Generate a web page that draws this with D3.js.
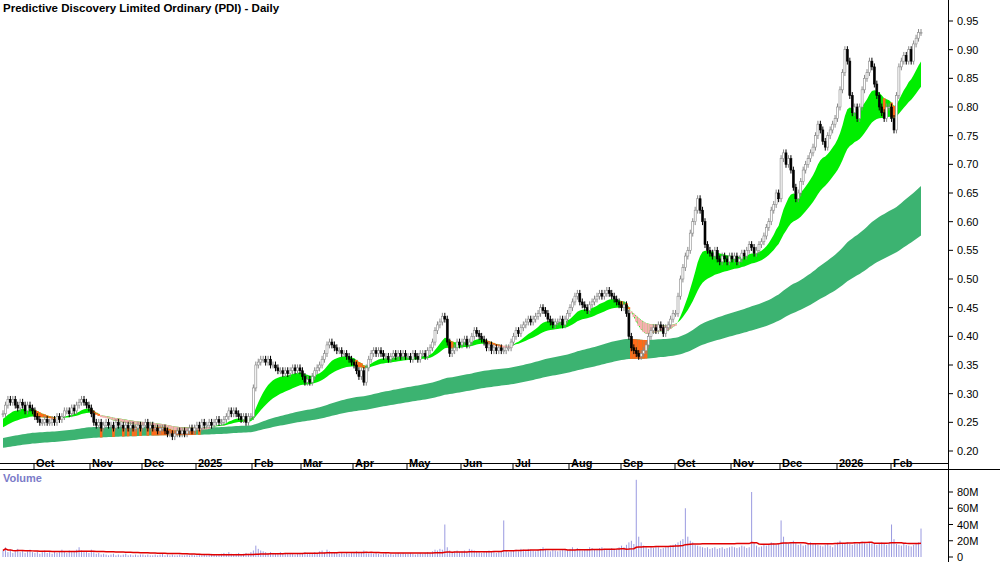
<!DOCTYPE html>
<html><head><meta charset="utf-8">
<script src="https://cdn.jsdelivr.net/npm/d3@7"></script>
<style>body{margin:0;background:#fff}svg{font-family:"Liberation Sans",Arial,sans-serif}</style>
</head><body><svg id="c" width="1000" height="562"></svg>
<script>
const title = "Predictive Discovery Limited Ordinary (PDI) - Daily";
const startDate = "2024-09-12";
const closes = [
0.265,0.28,0.29,0.285,0.29,0.28,0.275,0.285,0.28,0.27,0.28,0.275,0.27,
0.26,0.255,0.25,0.25,0.255,0.25,0.25,0.255,0.25,0.26,0.255,0.26,0.27,0.27,0.265,0.275,0.27,0.28,0.285,0.29,0.285,0.28,0.275,
0.265,0.25,0.245,0.25,0.24,0.245,0.25,0.245,0.245,0.24,0.25,0.245,0.245,0.24,0.245,0.24,0.245,0.24,0.24,0.245,0.24,
0.245,0.25,0.24,0.245,0.24,0.24,0.235,0.24,0.24,0.235,0.23,0.23,0.225,0.23,0.235,0.23,0.235,0.23,0.235,0.24,0.235,0.24,
0.245,0.24,0.25,0.245,0.245,0.25,0.245,0.25,0.255,0.25,0.25,0.255,0.26,0.27,0.265,0.27,0.265,0.26,0.255,0.26,0.25,0.26,0.26,
0.31,0.35,0.355,0.36,0.36,0.355,0.36,0.35,0.35,0.345,0.34,0.34,0.335,0.34,0.335,0.34,0.345,0.34,0.345,0.34,
0.33,0.32,0.325,0.32,0.33,0.34,0.345,0.35,0.36,0.37,0.385,0.39,0.385,0.38,0.375,0.375,0.37,0.37,0.365,0.36,0.355,
0.35,0.34,0.33,0.34,0.32,0.345,0.36,0.37,0.375,0.37,0.375,0.37,0.365,0.365,0.36,0.365,0.37,0.365,0.37,0.365,0.37,0.365,
0.365,0.36,0.37,0.365,0.36,0.37,0.37,0.365,0.375,0.38,0.39,0.41,0.42,0.425,0.435,0.43,0.39,0.37,0.375,0.38,0.39,0.385,
0.39,0.395,0.385,0.39,0.40,0.41,0.405,0.40,0.395,0.39,0.38,0.385,0.375,0.38,0.375,0.38,0.375,0.375,0.38,0.38,0.39,
0.40,0.41,0.405,0.415,0.42,0.425,0.43,0.425,0.43,0.435,0.44,0.45,0.445,0.44,0.43,0.425,0.42,0.425,0.425,0.43,0.42,0.43,0.44,
0.45,0.46,0.47,0.475,0.46,0.455,0.45,0.445,0.455,0.46,0.465,0.47,0.475,0.47,0.475,0.48,0.475,0.47,0.465,0.46,0.455,
0.45,0.455,0.44,0.40,0.38,0.375,0.37,0.365,0.37,0.375,0.385,0.40,0.41,0.415,0.41,0.42,0.415,0.405,0.415,0.42,0.43,0.44,
0.44,0.47,0.50,0.52,0.54,0.55,0.58,0.60,0.62,0.64,0.62,0.60,0.56,0.55,0.545,0.54,0.55,0.535,0.53,0.54,0.535,0.53,0.54,
0.535,0.54,0.53,0.535,0.545,0.54,0.55,0.56,0.555,0.545,0.55,0.56,0.565,0.575,0.59,0.60,0.62,0.63,0.65,0.64,
0.71,0.72,0.70,0.71,0.69,0.66,0.64,0.65,0.67,0.69,0.70,0.71,0.72,0.73,0.75,0.77,0.76,0.74,0.73,0.75,0.76,0.77,
0.78,0.80,0.83,0.86,0.90,0.88,0.82,0.79,0.80,0.78,0.80,0.83,0.85,0.86,0.88,0.87,0.84,0.82,0.80,0.79,0.78,0.80,
0.80,0.78,0.76,0.82,0.87,0.88,0.89,0.88,0.90,0.88,0.91,0.92,0.93,0.93];
const volumesM = [
8,12,6,9,5,7,10,6,8,5,7,9,6,
5,7,4,6,8,5,6,4,7,5,6,9,7,5,8,6,7,9,12,8,6,7,5,
9,6,4,5,3,4,3,2,3,4,2,3,2,3,4,2,3,2,3,2,3,
3,2,3,2,2,3,2,3,4,2,3,2,3,2,2,3,2,2,3,2,3,2,
2,3,2,3,2,3,4,3,2,3,4,5,4,6,4,3,4,5,3,4,5,4,6,
8,14,10,8,7,6,5,6,5,4,5,6,4,5,4,5,4,3,4,5,
5,6,4,5,4,6,5,7,8,6,9,7,5,6,5,4,5,4,5,4,5,
6,7,5,6,8,5,4,5,4,5,4,3,4,5,3,4,3,4,5,4,5,4,
4,5,4,3,4,5,4,5,6,5,7,9,8,10,9,40,12,8,6,7,8,6,
7,8,6,10,9,8,7,6,5,6,7,8,6,7,5,6,7,45,8,6,7,
8,9,7,10,9,8,10,9,8,7,9,10,12,9,8,7,9,8,7,8,9,10,8,
10,12,9,11,10,8,9,10,12,11,9,10,11,12,10,9,10,11,9,10,12,
14,12,15,18,20,16,95,25,18,14,12,10,12,11,13,12,10,11,12,13,14,15,
16,18,20,22,60,25,20,18,15,14,13,12,11,12,10,11,12,10,11,12,10,11,12,
13,12,11,12,14,13,11,12,80,18,14,12,13,15,14,16,18,17,15,16,
45,25,18,16,18,20,17,15,16,14,15,16,18,17,16,15,14,13,15,16,14,12,
15,18,20,17,16,18,16,15,17,16,18,19,17,16,18,17,16,15,17,18,16,15,
18,40,22,16,15,14,16,15,14,13,15,16,18,35];
const priceTicks = [0.20,0.25,0.30,0.35,0.40,0.45,0.50,0.55,0.60,0.65,0.70,0.75,0.80,0.85,0.90,0.95];
const volTicks = [0,20,40,60,80];
const bandSeeds = {fastA:0.255, fastB:0.24, slowA:0.222, slowB:0.205};
const bandPeriods = {fastA:15, fastB:35, slowA:140, slowB:230};

const N = closes.length;
const dates=[]; {let d=new Date(startDate+"T00:00:00"); while(dates.length<N){const w=d.getDay(); if(w>0&&w<6) dates.push(new Date(d)); d.setDate(d.getDate()+1);} }
const svg=d3.select("#c");
const x=d3.scaleLinear().domain([0,N-1]).range([3,921]);
const y=d3.scaleLinear().domain([0.20,0.95]).range([451,21]);
const yv=d3.scaleLinear().domain([0,80]).range([557,492]);

function ema(p,seed){const k=2/(p+1);let e=seed;return closes.map(c=>(e=e+k*(c-e)));}
const fA=ema(bandPeriods.fastA,bandSeeds.fastA), fB=ema(bandPeriods.fastB,bandSeeds.fastB);
const sA=ema(bandPeriods.slowA,bandSeeds.slowA), sB=ema(bandPeriods.slowB,bandSeeds.slowB);
const idx=d3.range(N);
const area=(a,b)=>d3.area().x(i=>x(i)).y0(i=>y(a[i])).y1(i=>y(b[i]));
svg.append("path").datum(idx).attr("d",area(sA,sB)).attr("fill","#3cb371");
idx.filter(i=>closes[i]<Math.max(sA[i],sB[i])).forEach(i=>{
  const t=Math.max(sA[i],sB[i]),b=Math.min(sA[i],sB[i]);
  svg.append("rect").attr("x",x(i)-1.3).attr("width",2.6).attr("y",y(t)).attr("height",y(b)-y(t)).attr("fill","#ff6a1a");
});
svg.append("path").datum(idx).attr("d",area(fA,fB)).attr("fill","#00ee00");
idx.forEach(i=>{
  const t=Math.max(fA[i],fB[i]),b=Math.min(fA[i],fB[i]);
  if(fA[i]<fB[i]) svg.append("rect").attr("x",x(i)-1.3).attr("width",2.6).attr("y",y(t)).attr("height",Math.max(2,y(b)-y(t))).attr("fill","#f6b0b0");
  else if(closes[i]<b) svg.append("rect").attr("x",x(i)-1.3).attr("width",2.6).attr("y",y(t)).attr("height",Math.max(2,y(b)-y(t))).attr("fill","#ff6a1a");
});
const g=svg.append("g");
idx.forEach(i=>{
  const c=closes[i], o=i?closes[i-1]:c;
  const hi=Math.max(o,c)+0.006, lo=Math.min(o,c)-0.006;
  const up=c>=o;
  g.append("line").attr("x1",x(i)).attr("x2",x(i)).attr("y1",y(hi)).attr("y2",y(lo)).attr("stroke",up?"#888":"#000").attr("stroke-width",1);
  const t=y(Math.max(o,c)), h=Math.max(1,y(Math.min(o,c))-t);
  g.append("rect").attr("x",x(i)-1).attr("y",t).attr("width",2).attr("height",h).attr("fill",up?"#fff":"#000").attr("stroke",up?"#888":"#000").attr("stroke-width",0.6);
});
svg.append("line").attr("x1",0).attr("x2",948).attr("y1",463.5).attr("y2",463.5).attr("stroke","#000");
svg.append("line").attr("x1",948.5).attr("x2",948.5).attr("y1",0).attr("y2",562).attr("stroke","#000");
svg.append("line").attr("x1",0).attr("x2",1000).attr("y1",469.5).attr("y2",469.5).attr("stroke","#000");
priceTicks.forEach(p=>{
  svg.append("line").attr("x1",948).attr("x2",953).attr("y1",y(p)).attr("y2",y(p)).attr("stroke","#000");
  svg.append("text").attr("x",957).attr("y",y(p)+4).attr("font-size",11).text(p.toFixed(2));
});
const fmt=d3.timeFormat("%b");
idx.forEach(i=>{ if(i>0 && dates[i].getMonth()!==dates[i-1].getMonth()){
  const xx=Math.round(x(i))-1;
  svg.append("line").attr("x1",xx).attr("x2",xx).attr("y1",463).attr("y2",469).attr("stroke","#000");
  svg.append("text").attr("x",xx+2).attr("y",467).attr("font-size",11).attr("font-weight","bold")
   .text(dates[i].getMonth()===0?dates[i].getFullYear():fmt(dates[i]));
}});
svg.append("text").attr("x",3).attr("y",12).attr("font-size",11.5).attr("font-weight","bold").text(title);
svg.append("text").attr("x",3).attr("y",482).attr("font-size",11).attr("font-weight","bold").attr("fill","#7b7bc8").text("Volume");
idx.forEach(i=>svg.append("line").attr("x1",x(i)).attr("x2",x(i)).attr("y1",yv(0)).attr("y2",yv(volumesM[i])).attr("stroke","#8080d8").attr("stroke-width",0.8));
const ma=idx.map(i=>d3.mean(volumesM.slice(Math.max(0,i-49),i+1)));
svg.append("path").datum(idx).attr("d",d3.line().x(i=>x(i)).y(i=>yv(ma[i]))).attr("fill","none").attr("stroke","#e00000").attr("stroke-width",1.5);
volTicks.forEach(v=>{
  svg.append("line").attr("x1",948).attr("x2",953).attr("y1",yv(v)).attr("y2",yv(v)).attr("stroke","#000");
  svg.append("text").attr("x",957).attr("y",yv(v)+4).attr("font-size",11).text(v?v+"M":"0");
});
</script></body></html>
